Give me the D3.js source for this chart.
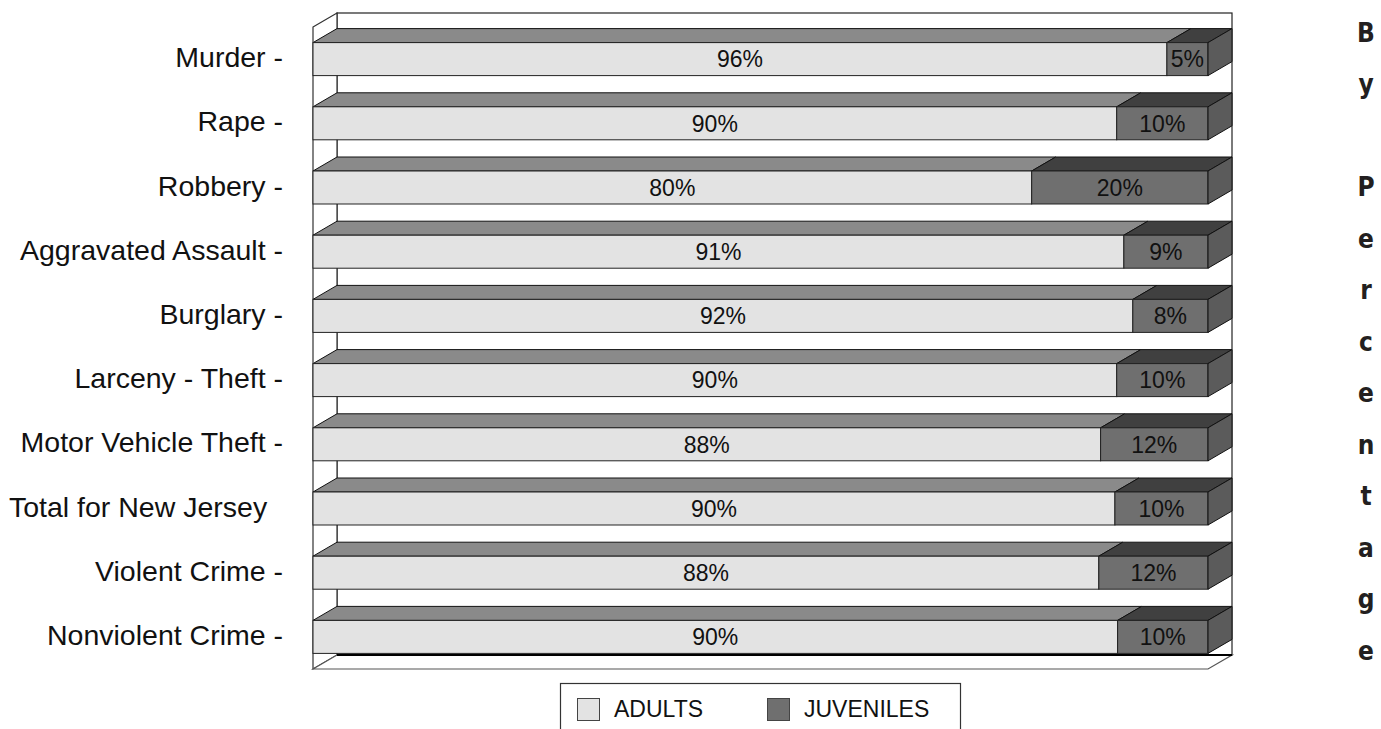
<!DOCTYPE html>
<html><head><meta charset="utf-8">
<script src="https://cdn.jsdelivr.net/npm/d3@7"></script>
<style>
html,body{margin:0;padding:0;background:#fff;}
svg{display:block;}
text{font-family:"Liberation Sans",Arial,sans-serif;}
</style></head>
<body>
<svg id="chart" width="1381" height="729"></svg>
<script>
// ---- data ----
const categories = ["Murder -","Rape -","Robbery -","Aggravated Assault -","Burglary -","Larceny - Theft -","Motor Vehicle Theft -","Total for New Jersey  ","Violent Crime -","Nonviolent Crime -"];
const adults =    [95.6, 89.8, 80.3, 90.6, 91.6, 89.8, 88.0, 89.6, 87.8, 89.9];
const juveniles = [4.6, 10.2, 19.7, 9.4, 8.4, 10.2, 12.0, 10.4, 12.2, 10.1];
const seriesNames = ["ADULTS","JUVENILES"];
const sideTitle = "By Percentage";

// ---- layout ----
const svg = d3.select("#chart");
const DX = 24, DY = 14;
const x0 = 313, x1 = 1208, yTop = 27, yBot = 669;
const x = d3.scaleLinear().domain([0,100]).range([x0,x1]);
const y = d3.scaleBand().domain(categories).range([yTop,yBot]).paddingInner(0.486).paddingOuter(0.243);
const fmt = d3.format(".0f");

const colors = {
  ADULTS: {front:"#e3e3e3", top:"#8a8a8a", side:"#b0b0b0"},
  JUVENILES: {front:"#6f6f6f", top:"#404040", side:"#5b5b5b"}
};

// back wall
svg.append("rect").attr("x",x0+DX).attr("y",yTop-DY).attr("width",x1-x0).attr("height",yBot-yTop)
  .attr("fill","#fff").attr("stroke","#222").attr("stroke-width",1.2);
// left wall
svg.append("polygon").attr("points",[[x0,yTop],[x0+DX,yTop-DY],[x0+DX,yBot-DY],[x0,yBot]].join(" "))
  .attr("fill","#fff").attr("stroke","#333").attr("stroke-width",1.2);
// floor
svg.append("polygon").attr("points",[[x0,yBot],[x0+DX,yBot-DY],[x1+DX,yBot-DY],[x1,yBot]].join(" "))
  .attr("fill","#fff").attr("stroke","#555").attr("stroke-width",1.2);
svg.append("line").attr("x1",x0+DX).attr("x2",x1+DX).attr("y1",yBot-DY).attr("y2",yBot-DY)
  .attr("stroke","#000").attr("stroke-width",2);

// bars
const rows = categories.map((c,i)=>{
  const tot = adults[i]+juveniles[i];
  const a = adults[i]/tot*100;
  return {cat:c, segs:[
    {name:"ADULTS", v0:0, v1:a, label:fmt(adults[i])+"%"},
    {name:"JUVENILES", v0:a, v1:100, label:fmt(juveniles[i])+"%"}
  ]};
});

const bh = y.bandwidth();
const g = svg.append("g");
rows.forEach(r=>{
  const yy = y(r.cat);
  r.segs.forEach((s,k)=>{
    const xa = x(s.v0), xb = x(s.v1), c = colors[s.name];
    g.append("polygon").attr("points",[[xa,yy],[xa+DX,yy-DY],[xb+DX,yy-DY],[xb,yy]].join(" "))
      .attr("fill",c.top).attr("stroke","#111").attr("stroke-width",1);
    g.append("rect").attr("x",xa).attr("y",yy).attr("width",xb-xa).attr("height",bh)
      .attr("fill",c.front).attr("stroke","#222").attr("stroke-width",1);
    if(k===r.segs.length-1){
      g.append("polygon").attr("points",[[xb,yy],[xb+DX,yy-DY],[xb+DX,yy+bh-DY],[xb,yy+bh]].join(" "))
        .attr("fill",c.side).attr("stroke","#111").attr("stroke-width",1);
    }
    g.append("text").attr("x",(xa+xb)/2).attr("y",yy+bh/2+8.3)
      .attr("text-anchor","middle").attr("font-size",23).attr("fill","#111").text(s.label);
  });
});

// category labels
svg.append("g").selectAll("text").data(categories).join("text")
  .attr("x",283).attr("y",d=>y(d)+bh/2+8)
  .attr("text-anchor","end").attr("font-size",28.5).attr("fill","#111")
  .style("white-space","pre").text(d=>d);

// legend
const lg = svg.append("g");
lg.append("rect").attr("x",560.5).attr("y",683.5).attr("width",400).attr("height",80)
  .attr("fill","#fff").attr("stroke","#333").attr("stroke-width",1.2);
const legX = [577, 767];
seriesNames.forEach((n,i)=>{
  lg.append("rect").attr("x",legX[i]+0.5).attr("y",698.5).attr("width",22).attr("height",22)
    .attr("fill",colors[n].front).attr("stroke","#444").attr("stroke-width",1);
  lg.append("text").attr("x",legX[i]+37).attr("y",717).attr("font-size",23).attr("fill","#111").text(n);
});

// vertical side title
svg.append("g").selectAll("text").data(sideTitle.split("")).join("text")
  .attr("x",1366).attr("y",(d,i)=>41.7+i*51.5)
  .attr("text-anchor","middle")
  .style("font-family","'DejaVu Sans Condensed','DejaVu Sans',sans-serif")
  .attr("font-weight","bold").attr("font-size",26).attr("fill","#231f20")
  .text(d=>d);
</script>
</body></html>
